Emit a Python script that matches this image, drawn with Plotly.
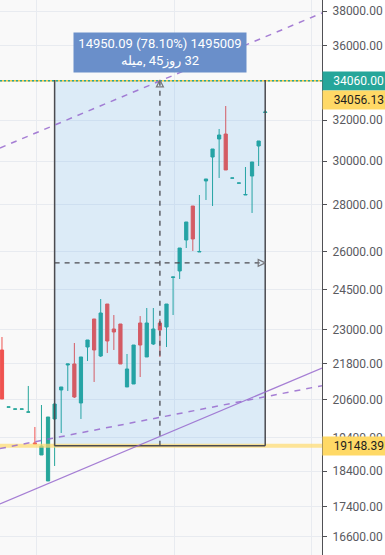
import math
import plotly.graph_objects as go

# ---------------- data ----------------
candle_idx = list(range(41))
open_ = [22271, 20350, 20285, 20285, 20190, 19233, 18872, 18114, 19975, 20910,
         21751, 21785, 20485, 22376, 23387, 22061, 23946, 23021, 23203, 21009,
         21108, 23240, 22027, 22482, 23240, 23094, 24970, 25227, 26491, 27950,
         25994, 29075, 30196, 31066, 31310, 29205, 28975, 28439, 29303, 30724, 32392]
high = [22732, 20358, 20293, 20293, 21042, 19724, 20420, 20037, 20452, 21009,
        21785, 22518, 22027, 22625, 23387, 24136, 23946, 23534, 23203, 22131,
        22446, 23496, 23796, 23796, 23387, 23946, 24990, 26158, 27254, 27950,
        28439, 29167, 30580, 31560, 32725, 29213, 28983, 29724, 29959, 30968, 32520]
low = [20614, 20350, 20285, 20285, 20190, 19203, 18872, 18114, 18547, 19538,
       20877, 20647, 19975, 21888, 21175, 22027, 22166, 22271, 21785, 21009,
       21108, 21342, 22027, 22446, 22027, 22376, 23534, 24910, 26158, 26035,
       25994, 28216, 27950, 29213, 29584, 29205, 28975, 28439, 27644, 29770, 32366]
close = [20614, 20358, 20293, 20293, 20198, 19203, 19141, 20037, 20452, 21009,
         21785, 20679, 22027, 22625, 22271, 23609, 22589, 22912, 21785, 21614,
         22446, 22446, 23240, 23021, 22985, 23946, 24990, 26158, 27254, 26533,
         26015, 29167, 30580, 31262, 29584, 29213, 28983, 28462, 29959, 30968, 32417]

# date-price range tool
range_start_idx = 8
range_end_idx = 40
range_low = 19148.39
range_high = 34098.48
range_text_1 = "14950.09 (78.10%) 1495009"
range_text_2 = "میله,\u200e 45روز\u200e 32"

# price levels
last_price = 34060.00
hline_price = 34056.13
support_price = 19148.39

# trend lines (index, price)
trend_x = [-0.3, 48.63]
upper_dashed = [30630, 37894]
lower_dashed = [19064, 21052]
solid_line = [17468, 21647]

# axis ticks
y_ticks = [38000, 36000, 34000, 32000, 30000, 28000, 26000, 24500, 23000,
           21800, 20600, 19400, 18400, 17400, 16600]
y_ticktext = [f"{v:.2f}" for v in y_ticks]
x_grid = [5.17, 26.14, 47.1]

GREEN = "#26a69a"
RED = "#ef5350"
PURPLE = "rgba(150,104,206,0.85)"
DARK = "rgb(75,75,80)"

fig = go.Figure()

# range rectangle fill
fig.add_trace(go.Scatter(
    x=[range_start_idx, range_end_idx, range_end_idx, range_start_idx, range_start_idx],
    y=[range_low, range_low, range_high, range_high, range_low],
    fill="toself", fillcolor="rgba(33,150,243,0.13)", mode="lines",
    line=dict(width=0), hoverinfo="skip"))

# support line (yellow band)
fig.add_trace(go.Scatter(x=trend_x, y=[support_price, support_price], mode="lines",
                         line=dict(color="rgba(255,220,110,0.7)", width=4), hoverinfo="skip"))
# top lines
fig.add_trace(go.Scatter(x=trend_x, y=[hline_price, hline_price], mode="lines",
                         line=dict(color="rgb(250,205,70)", width=1.5), hoverinfo="skip"))
fig.add_trace(go.Scatter(x=trend_x, y=[last_price, last_price], mode="lines",
                         line=dict(color=GREEN, width=1.5, dash="2px,2px"), hoverinfo="skip"))

# range borders
fig.add_trace(go.Scatter(
    x=[range_start_idx, range_start_idx, None, range_end_idx, range_end_idx, None,
       range_start_idx, range_end_idx],
    y=[range_low, range_high, None, range_low, range_high, None, range_low, range_low],
    mode="lines", line=dict(color=DARK, width=1.5), hoverinfo="skip"))

# candles
fig.add_trace(go.Candlestick(
    x=candle_idx, open=open_, high=high, low=low, close=close,
    increasing=dict(line=dict(color=GREEN, width=1), fillcolor=GREEN),
    decreasing=dict(line=dict(color=RED, width=1), fillcolor=RED),
    whiskerwidth=0, hoverinfo="skip"))

# trend lines
fig.add_trace(go.Scatter(x=trend_x, y=upper_dashed, mode="lines",
                         line=dict(color=PURPLE, width=1.5, dash="6px,6px"), hoverinfo="skip"))
fig.add_trace(go.Scatter(x=trend_x, y=lower_dashed, mode="lines",
                         line=dict(color=PURPLE, width=1.5, dash="6px,6px"), hoverinfo="skip"))
fig.add_trace(go.Scatter(x=trend_x, y=solid_line, mode="lines",
                         line=dict(color=PURPLE, width=1.2), hoverinfo="skip"))

# crosshair dashed lines
mid_idx = (range_start_idx + range_end_idx) / 2
mid_price = math.sqrt(range_low * range_high)
fig.add_trace(go.Scatter(x=[mid_idx, mid_idx], y=[range_low, range_high], mode="lines",
                         line=dict(color=DARK, width=1.3, dash="5px,5px"), hoverinfo="skip"))
fig.add_trace(go.Scatter(x=[range_start_idx, range_end_idx], y=[mid_price, mid_price], mode="lines",
                         line=dict(color=DARK, width=1.3, dash="5px,5px"), hoverinfo="skip"))
fig.add_trace(go.Scatter(x=[mid_idx], y=[range_high], mode="markers",
                         marker=dict(symbol="arrow-up-open", size=7, color="rgb(120,120,125)",
                                     line=dict(width=1.2)), hoverinfo="skip"))
fig.add_trace(go.Scatter(x=[range_end_idx], y=[mid_price], mode="markers",
                         marker=dict(symbol="arrow-right-open", size=7, color="rgb(120,120,125)",
                                     line=dict(width=1.2)), hoverinfo="skip"))

annotations = [
    dict(x=mid_idx, y=math.log10(range_high), xref="x", yref="y",
         text=range_text_1 + "<br>" + range_text_2, showarrow=False,
         yanchor="bottom", yshift=7, bgcolor="rgb(106,143,202)",
         font=dict(color="white", size=13, family="Roboto"), borderpad=3, width=166),
    dict(x=1, xref="paper", xanchor="left", y=math.log10(last_price), yref="y",
         text=f"{last_price:.2f}", showarrow=False, bgcolor=GREEN, width=59, align="right",
         font=dict(color="white", size=12, family="Roboto"), borderpad=2),
    dict(x=1, xref="paper", xanchor="left", y=math.log10(hline_price), yref="y", yshift=-19,
         text=f"{hline_price:.2f}", showarrow=False, bgcolor="rgb(255,217,102)", width=59, align="right",
         font=dict(color="rgb(30,30,30)", size=12, family="Roboto"), borderpad=2),
    dict(x=1, xref="paper", xanchor="left", y=math.log10(support_price), yref="y",
         text=f"{support_price:.2f}", showarrow=False, bgcolor="rgb(255,217,102)", width=59, align="right",
         font=dict(color="rgb(30,30,30)", size=12, family="Roboto"), borderpad=2),
]

fig.update_layout(
    width=385, height=555, margin=dict(l=0, r=63, t=0, b=0),
    paper_bgcolor="white", plot_bgcolor="rgb(249,249,249)", showlegend=False,
    font=dict(family="Roboto", size=12, color="rgb(90,90,95)"),
    annotations=annotations,
    xaxis=dict(range=[-0.3, 48.63], showticklabels=False, ticks="", tickvals=x_grid,
               showgrid=True, gridcolor="rgb(232,235,240)", zeroline=False,
               rangeslider=dict(visible=False), showline=False),
    yaxis=dict(type="log", range=[4.2073, 4.5875], side="right", tickvals=y_ticks,
               ticktext=y_ticktext, ticks="outside", ticklen=4, tickcolor="rgb(80,80,85)",
               showline=True, linecolor="rgb(80,80,85)", linewidth=1, ticklabelstandoff=3,
               gridcolor="rgb(232,235,240)", zeroline=False,
               tickfont=dict(size=12, color="rgb(90,90,95)")),
)

fig.write_html("out.html", config={"displayModeBar": False},
               post_script="document.body.style.margin='0px';document.body.style.padding='0px';")
